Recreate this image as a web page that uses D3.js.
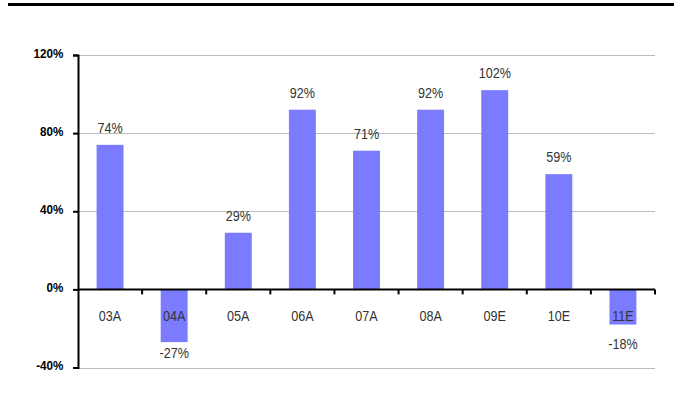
<!DOCTYPE html>
<html>
<head>
<meta charset="utf-8">
<script src="https://cdn.jsdelivr.net/npm/d3@7"></script>
<style>
  html, body { margin: 0; padding: 0; background: #fff; }
  svg { display: block; }
  text { font-family: "Liberation Sans", Arial, sans-serif; }
</style>
</head>
<body>
<svg id="chart" width="682" height="394"></svg>
<script>
// Year-on-year growth by fiscal year (A = actual, E = estimate)
const categories = ["03A", "04A", "05A", "06A", "07A", "08A", "09E", "10E", "11E"];
const growth = [74, -27, 29, 92, 71, 92, 102, 59, -18];
const yTicks = [-40, 0, 40, 80, 120];

(function draw() {
  const svg = d3.select("#chart");
  const plotLeft = 78, plotRight = 655, plotTop = 55, plotBottom = 367.5;
  const squeeze = 0.9; // horizontal condensing to get a narrow face

  // Draw a condensed text label anchored at (cx, cy)
  function narrowText(g, cx, cy, str, opts) {
    return g.append("text")
      .attr("transform", `translate(${cx},${cy}) scale(${opts.sx || squeeze},1)`)
      .attr("text-anchor", opts.anchor || "middle")
      .attr("font-size", opts.size || 14)
      .attr("font-weight", opts.weight || "normal")
      .attr("fill", opts.fill || "#333")
      .text(str);
  }

  // Header rule
  svg.append("line")
    .attr("x1", 8).attr("x2", 674).attr("y1", 4.5).attr("y2", 4.5)
    .attr("stroke", "#000").attr("stroke-width", 3);

  const x = d3.scaleBand().domain(categories).range([plotLeft, plotRight]).paddingInner(0.58).paddingOuter(0.29);
  const y = d3.scaleLinear().domain([-40, 120]).range([plotBottom, plotTop]);

  // Gridlines
  svg.append("g").selectAll("line").data(yTicks.filter(d => d !== 0)).join("line")
    .attr("x1", plotLeft).attr("x2", plotRight)
    .attr("y1", d => Math.round(y(d)) + 0.5).attr("y2", d => Math.round(y(d)) + 0.5)
    .attr("stroke", "#bdbdbd").attr("stroke-width", 1);

  // Bars
  svg.append("g").selectAll("rect").data(growth).join("rect")
    .attr("x", (d, i) => x(categories[i]))
    .attr("width", x.bandwidth())
    .attr("y", d => y(Math.max(0, d)))
    .attr("height", d => Math.abs(y(d) - y(0)))
    .attr("fill", "#7b7bff");

  const catBaseline = y(0) + 32;

  // Value labels: above positive bars, below negative bars (clear of category labels)
  const lbl = svg.append("g");
  growth.forEach((d, i) => {
    const cx = x(categories[i]) + x.bandwidth() / 2;
    const by = d >= 0 ? y(d) - 12 : Math.max(y(d) + 16, catBaseline + 28);
    narrowText(lbl, cx, by, d + "%", {});
  });

  // Y axis
  const yAxis = svg.append("g").attr("transform", `translate(${plotLeft},0)`)
    .call(d3.axisLeft(y).tickValues(yTicks).tickSize(5).tickFormat(""));
  yAxis.select(".domain").attr("stroke", "#000").attr("stroke-width", 2);
  yAxis.selectAll(".tick line").attr("stroke", "#000").attr("stroke-width", 2);
  const yLbl = svg.append("g");
  yTicks.forEach(t => {
    narrowText(yLbl, plotLeft - 14.5, y(t) + 2.5, t + "%",
      { anchor: "end", size: 13, weight: "bold", fill: "#000", sx: 0.9 });
  });

  // X axis on the zero line, ticks between categories
  const xAxisG = svg.append("g");
  xAxisG.append("line")
    .attr("x1", plotLeft).attr("x2", plotRight)
    .attr("y1", y(0)).attr("y2", y(0))
    .attr("stroke", "#000").attr("stroke-width", 2);
  const boundaries = categories.map((c, i) => plotLeft + (plotRight - plotLeft) * (i + 1) / categories.length);
  xAxisG.selectAll(".sep").data(boundaries).join("line")
    .attr("class", "sep")
    .attr("x1", d => d).attr("x2", d => d)
    .attr("y1", y(0)).attr("y2", y(0) + 5)
    .attr("stroke", "#000").attr("stroke-width", 2);
  categories.forEach(c => {
    narrowText(xAxisG, x(c) + x.bandwidth() / 2, catBaseline, c, {});
  });
})();
</script>
</body>
</html>
